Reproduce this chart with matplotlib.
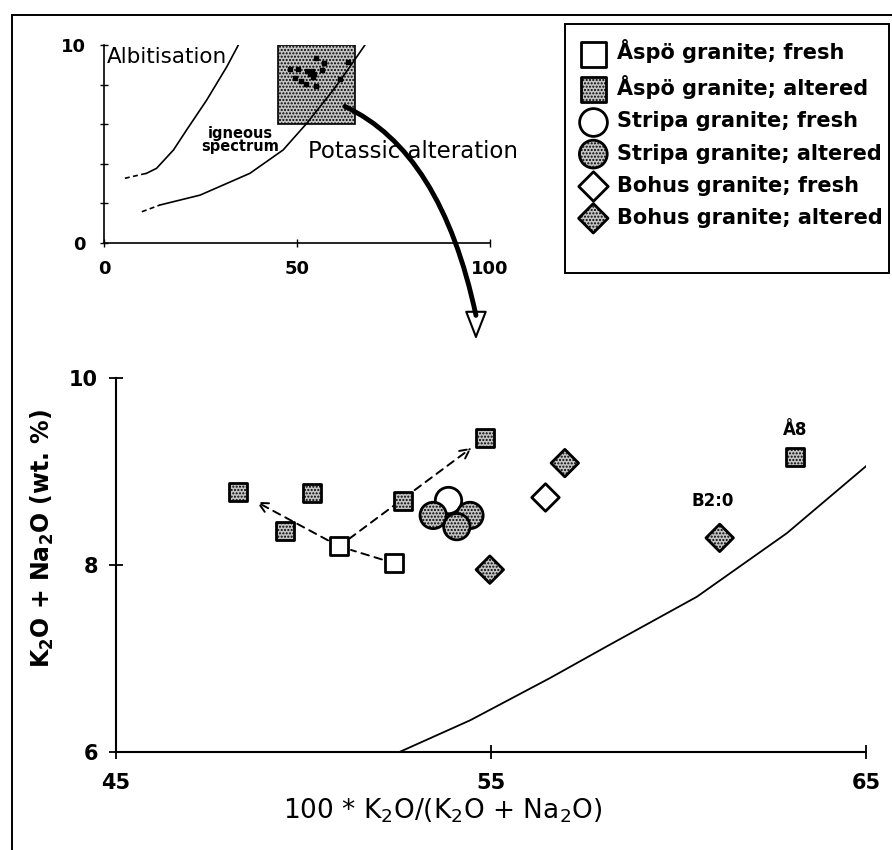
import matplotlib
matplotlib.use('Agg')
import matplotlib.pyplot as plt
from matplotlib.patches import Rectangle, ConnectionPatch

plt.rcParams['font.family'] = ['DejaVu Sans']
plt.rcParams['mathtext.default'] = 'regular'
plt.rcParams['hatch.linewidth'] = 1.0

# --- sample data: 100*K2O/(K2O+Na2O) vs K2O+Na2O (wt. %) ---
aspo_fresh_x = [50.95, 52.41]
aspo_fresh_y = [8.20, 8.02]
aspo_alt_x = [48.26, 49.51, 50.22, 52.66, 54.84, 63.10]
aspo_alt_y = [8.78, 8.36, 8.77, 8.68, 9.36, 9.16]
stripa_fresh_x = [53.86]
stripa_fresh_y = [8.70]
stripa_alt_x = [53.46, 54.44, 54.09]
stripa_alt_y = [8.53, 8.53, 8.41]
bohus_fresh_x = [56.44]
bohus_fresh_y = [8.73]
bohus_alt_x = [56.97, 54.97, 61.10]
bohus_alt_y = [9.09, 7.95, 8.29]

# igneous spectrum boundary (zoomed part)
ign_x = [52.56, 54.45, 56.57, 58.09, 60.49, 62.89, 65.10]
ign_y = [6.00, 6.34, 6.79, 7.13, 7.66, 8.34, 9.09]

# overview diagram curves
alb_dash_x = [5.4, 11.0]
alb_dash_y = [3.27, 3.52]
alb_x = [11.0, 13.6, 18.0, 21.4, 26.6, 31.8, 34.8]
alb_y = [3.52, 3.77, 4.70, 5.71, 7.22, 8.90, 10.0]
ovr_dash_x = [9.8, 14.5]
ovr_dash_y = [1.58, 1.92]
ovr_x = [14.5, 24.9, 37.8, 46.4, 52.5, 59.4, 63.7, 67.6]
ovr_y = [1.92, 2.42, 3.52, 4.70, 6.04, 7.73, 8.90, 10.0]

labels = ['Åspö granite; fresh', 'Åspö granite; altered', 'Stripa granite; fresh',
          'Stripa granite; altered', 'Bohus granite; fresh', 'Bohus granite; altered']

fig = plt.figure(figsize=(8.92, 8.5), dpi=100)

# outer frame
fig.add_artist(Rectangle((0.01345, -0.05), 1.1, 1.03235, transform=fig.transFigure,
                         fill=False, lw=1.4, ec='black'))

# ---------------- main plot ----------------
ax = fig.add_axes([0.1300, 0.1153, 0.8408, 0.4400])
ax.set_xlim(45, 65)
ax.set_ylim(6, 10)
for s in ['top', 'right']:
    ax.spines[s].set_visible(False)
for s in ['left', 'bottom']:
    ax.spines[s].set_linewidth(1.5)
ax.set_xticks([45, 55, 65])
ax.set_yticks([6, 8, 10])
ax.tick_params(direction='inout', length=10, width=1.3, labelsize=15)
ax.tick_params(axis='x', pad=10)
ax.tick_params(axis='y', pad=8)
for lab in ax.get_xticklabels() + ax.get_yticklabels():
    lab.set_fontweight('bold')
ax.set_xlabel('100 * K$_2$O/(K$_2$O + Na$_2$O)', fontsize=19)
ax.xaxis.set_label_coords(0.436, -0.12)
ax.set_ylabel('K$_2$O + Na$_2$O (wt. %)', fontsize=17, fontweight='bold')
ax.yaxis.set_label_coords(-0.08, 0.57)

ax.plot(ign_x, ign_y, color='black', lw=1.3)

# trend arrows from fresh to altered Åspö samples
dash = dict(ls=(0, (4, 3)), lw=1.4, color='black')
ax.annotate('', xy=(aspo_fresh_x[0], aspo_fresh_y[0]), xytext=(aspo_fresh_x[1], aspo_fresh_y[1]),
            arrowprops=dict(arrowstyle='-', shrinkA=9, shrinkB=9, **dash))
ax.annotate('', xy=(aspo_alt_x[0], aspo_alt_y[0]), xytext=(aspo_fresh_x[0], aspo_fresh_y[0]),
            arrowprops=dict(arrowstyle='->,head_length=0.7,head_width=0.35', shrinkA=9, shrinkB=15, **dash))
ax.annotate('', xy=(aspo_alt_x[4], aspo_alt_y[4]), xytext=(aspo_fresh_x[0], aspo_fresh_y[0]),
            arrowprops=dict(arrowstyle='->,head_length=0.7,head_width=0.35', shrinkA=9, shrinkB=12, **dash))

stip = dict(facecolor='#c4c4c4', edgecolor='black', hatch='.....', linewidths=2.0)
open_ = dict(facecolor='white', edgecolor='black', linewidths=2.0)

ax.scatter(aspo_fresh_x, aspo_fresh_y, marker='s', s=13**2, zorder=3, **open_)
ax.scatter(aspo_alt_x, aspo_alt_y, marker='s', s=13**2, zorder=3, **stip)
ax.scatter(stripa_fresh_x, stripa_fresh_y, marker='o', s=19**2, zorder=3, **open_)
for i in range(len(stripa_alt_x)):
    ax.scatter(stripa_alt_x[i], stripa_alt_y[i], marker='o', s=19**2, zorder=4 + i, **stip)
ax.scatter(bohus_fresh_x, bohus_fresh_y, marker='D', s=14**2, zorder=3, **open_)
ax.scatter(bohus_alt_x, bohus_alt_y, marker='D', s=14**2, zorder=3, **stip)

ax.text(aspo_alt_x[5], aspo_alt_y[5] + 0.28, 'Å8', ha='center', va='center', fontsize=12, fontweight='bold')
ax.text(bohus_alt_x[2] - 0.18, bohus_alt_y[2] + 0.39, 'B2:0', ha='center', va='center', fontsize=12, fontweight='bold')

# legend handles (larger symbols than in the plot)
handles = [
    ax.scatter([], [], marker='s', s=18**2, **open_),
    ax.scatter([], [], marker='s', s=18**2, **stip),
    ax.scatter([], [], marker='o', s=20**2, **open_),
    ax.scatter([], [], marker='o', s=20**2, **stip),
    ax.scatter([], [], marker='D', s=15**2, **open_),
    ax.scatter([], [], marker='D', s=15**2, **stip),
]

# ---------------- overview diagram ----------------
ins = fig.add_axes([0.1166, 0.7141, 0.4327, 0.2329])
ins.set_xlim(0, 100)
ins.set_ylim(0, 10)
for s in ['top', 'right']:
    ins.spines[s].set_visible(False)
for s in ['left', 'bottom']:
    ins.spines[s].set_linewidth(1.2)
ins.set_xticks([0, 50, 100])
ins.set_yticks([0, 2, 4, 6, 8, 10])
ins.set_yticklabels(['0', '', '', '', '', '10'])
ins.tick_params(direction='inout', length=6, width=1.0, labelsize=13)
ins.tick_params(axis='x', pad=9)
ins.tick_params(axis='y', pad=10)
for lab in ins.get_xticklabels() + ins.get_yticklabels():
    lab.set_fontweight('bold')

ins.add_patch(Rectangle((45, 6), 20, 4, facecolor='#c4c4c4', edgecolor='black',
                        hatch='.....', lw=1.2, zorder=1))
ins.plot(alb_dash_x, alb_dash_y, color='black', lw=1.2, ls=(0, (3, 2)))
ins.plot(alb_x, alb_y, color='black', lw=1.2)
ins.plot(ovr_dash_x, ovr_dash_y, color='black', lw=1.2, ls=(0, (3, 2)))
ins.plot(ovr_x, ovr_y, color='black', lw=1.2, zorder=2)
all_x = aspo_fresh_x + aspo_alt_x + stripa_fresh_x + stripa_alt_x + bohus_fresh_x + bohus_alt_x
all_y = aspo_fresh_y + aspo_alt_y + stripa_fresh_y + stripa_alt_y + bohus_fresh_y + bohus_alt_y
ins.scatter(all_x, all_y, marker='s', s=6, color='black', zorder=3)

ins.text(0.8, 9.4, 'Albitisation', fontsize=15.5, va='center', ha='left')
ins.text(35.2, 5.2, 'igneous\nspectrum', fontsize=10.5, fontweight='bold', ha='center', va='center',
         linespacing=0.9)
ins.text(52.8, 4.6, 'Potassic alteration', fontsize=16.5, va='center', ha='left', clip_on=False)

# curved arrow from the zoom box down to the main plot
con = ConnectionPatch(xyA=(62.4, 6.9), coordsA=ins.transData,
                      xyB=(54.6, 10.67), coordsB=ax.transData,
                      arrowstyle='-', connectionstyle='angle3,angleA=-25,angleB=102',
                      lw=3.5, color='black', zorder=10)
fig.add_artist(con)
ax.annotate('', xy=(54.6, 10.41), xytext=(54.6, 10.67), annotation_clip=False,
            arrowprops=dict(arrowstyle='-|>,head_length=1.8,head_width=0.7', fc='white',
                            ec='black', lw=1.5, shrinkA=0, shrinkB=0))

# ---------------- legend ----------------
fig.add_artist(Rectangle((565 / 892, 1 - 273 / 850), 324 / 892, 249 / 850, transform=fig.transFigure,
                         fill=False, lw=1.4, ec='black'))
fig.legend(handles, labels, loc='upper left',
           bbox_to_anchor=(573 / 892, 1 - 31 / 850), frameon=False,
           prop={'size': 15, 'weight': 'bold'}, handletextpad=0.55, labelspacing=0.58,
           borderaxespad=0, handlelength=1.15)

fig.savefig('out.png', dpi=100)
